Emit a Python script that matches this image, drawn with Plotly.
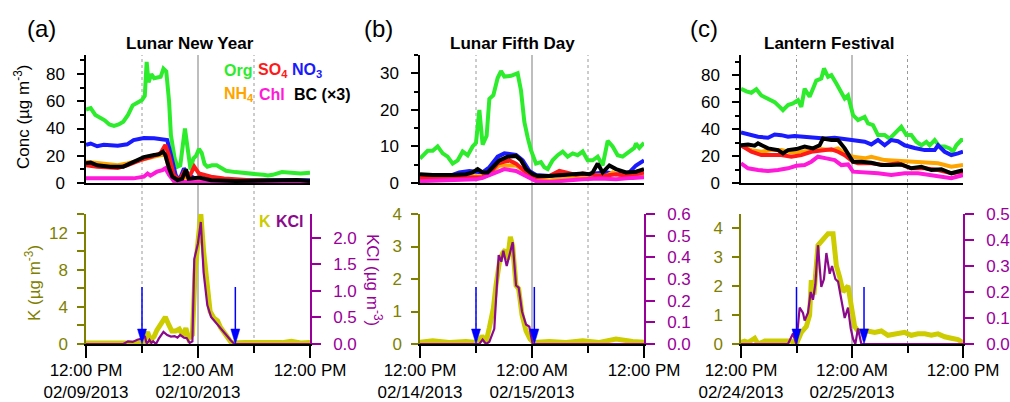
import numpy as np
import pandas as pd
import plotly.graph_objects as go

W, H = 1010, 402

# ------------------------------------------------------------------
# Time series, hours after 12:00 PM on the first day of each episode
# ------------------------------------------------------------------
# (a) Lunar New Year
A_ORG_T = [0, 0.5, 1, 1.5, 2, 2.5, 3, 3.5, 4, 4.5, 5, 5.5, 6, 6.3, 6.5, 6.7, 7, 7.3, 7.7, 8,
           8.3, 8.6, 8.9, 9.1, 9.5, 9.8, 10.1, 10.4, 10.6, 10.9, 11.2, 11.5, 11.8, 12.1, 12.4,
           12.7, 13, 13.5, 14, 14.5, 15, 16, 17, 18, 19, 19.5, 20, 21, 22, 23, 24]
A_ORG = [54, 55, 50, 48, 46, 43, 42, 43, 45, 50, 57, 59, 61, 64, 89, 74, 80, 77, 78, 78,
         84, 82, 60, 35, 18, 12, 13, 30, 40, 25, 10, 18, 20, 25, 22,
         14, 12, 13, 13, 11, 9, 8, 7.5, 7, 6, 5.5, 6, 8, 7.5, 7, 7.5]
A_NO3_T = [0, 0.5, 1.2, 1.9, 3.4, 4.4, 5.1, 6.2, 7.3, 8.4, 8.7, 9.1, 9.6, 10, 10.5, 11, 11.6,
           12.3, 14, 17, 20, 24]
A_NO3 = [28, 29, 27, 28, 27.4, 28.4, 31.5, 33, 32.8, 32.3, 31.5, 20.5, 6, 2, 10.7, 6, 3.5,
         2, 2, 1.5, 1.5, 2]
A_SO4_T = [0, 1.2, 3.4, 4.4, 5.9, 6.9, 8, 8.5, 8.9, 9.4, 10, 10.5, 11, 11.6, 12.1, 12.6, 13.4,
           14.8, 17.6, 21, 24]
A_SO4 = [13, 12, 11, 13, 17, 19, 22, 28, 20, 6, 2, 8, 3.5, 12, 7, 6, 4.6, 3.4, 2, 1.5, 1.5]
A_NH4_T = [0, 1.6, 3.4, 4.4, 5.9, 6.9, 8, 8.5, 9, 9.4, 10, 10.7, 11.2, 12, 13, 18, 24]
A_NH4 = [15.7, 14.4, 13, 14.4, 17, 19, 20.5, 20.5, 8, 1.5, 1, 4.6, 1.5, 2, 1.2, 1, 1]
A_CHL_T = [0, 3.4, 5.1, 6.2, 6.6, 6.9, 7.6, 8.2, 8.5, 8.9, 9.4, 10.1, 12, 18, 24]
A_CHL = [3.4, 3, 3.4, 4.6, 7, 5.4, 8.3, 9.5, 10.8, 6, 1.5, 1, 0.5, 0.7, 1]
A_BC_T = [0, 0.5, 1.2, 2.6, 4, 5.1, 6.2, 7.3, 7.8, 8.25, 8.5, 8.9, 9.25, 9.8, 10.3, 10.7, 11,
          12.1, 13.4, 16, 21.2, 22.6, 24]
A_BC = [14.4, 15, 13, 12, 12, 15.7, 19, 20.5, 21, 23, 20.5, 10.8, 4.6, 2.2, 3, 10, 3,
        4, 2, 1.5, 1.7, 2.2, 1.5]
A_K_T = [0, 1, 2, 3, 4, 5, 5.5, 6, 6.3, 6.6, 6.9, 7.3, 7.6, 8, 8.5, 8.9, 9.2, 9.6, 10, 10.4,
         10.7, 11, 11.4, 11.7, 12, 12.3, 12.6, 13, 13.3, 13.7, 14.1, 14.4, 14.8, 15.2, 15.6,
         17, 19, 21, 22, 23, 24]
A_K = [0.1, 0.12, 0.08, 0.1, 0.12, 0.1, 0.2, 0.1, 0.5, 1.3, 0.4, 0.8, 1.5, 2.2, 2.9, 2.0,
       1.4, 1.4, 1.6, 0.9, 1.7, 0.6, 1.0, 8, 11.6, 14, 10, 5.5, 3.5, 2.8, 2.5, 1.8, 1.2, 0.6,
       0.1, 0.15, 0.12, 0.15, 0.3, 0.12, 0.15]
A_KCL_T = [0, 4, 4.5, 5, 5.5, 6, 6.3, 6.5, 6.8, 7, 7.2, 7.5, 7.8, 8.3, 8.7, 9.1, 9.5, 9.8,
           10.1, 10.5, 10.8, 11.1, 11.4, 11.6, 12, 12.3, 12.6, 13, 13.4, 14.1, 14.8, 15.5,
           15.9, 24]
A_KCL = [0, 0, 0.05, 0.04, 0.08, 0.1, 0.15, 0.0, 0.08, 0.02, 0.05, 0.0, 0.1, 0.23, 0.17,
         0.14, 0.15, 0.12, 0.17, 0.12, 0.11, 0.02, 0.05, 1.6, 1.9, 2.3, 1.35, 0.73, 0.51,
         0.36, 0.23, 0.07, 0, 0]
A_EVENT = [6, 16]

# (b) Lunar Fifth Day
B_ORG_T = [0, 0.46, 0.82, 1.36, 1.89, 2.43, 2.96, 3.5, 4.04, 4.57, 5.11, 5.64, 6, 6.36, 6.71,
           7.14, 7.43, 7.86, 8.32, 8.68, 9.04, 9.75, 10.46, 10.82, 11.18, 11.54, 11.89, 12.43,
           12.96, 13.32, 13.68, 14.21, 14.75, 15.29, 15.82, 16.36, 16.89, 17.43, 17.96, 18.5,
           19.04, 19.57, 20.11, 20.64, 21.18, 21.71, 22.43, 22.96, 23.14, 23.5, 24]
B_ORG = [6.7, 8.1, 8.8, 8.8, 10, 8.1, 7.2, 5.3, 6.2, 8.6, 7.6, 10, 11, 20, 10.5,
         12.9, 23, 24, 28.7, 30.6, 29.1, 29.3, 30, 25.3, 16.7, 12.4, 9, 5.3,
         5.7, 4.3, 3.8, 6.2, 7.6, 8.6, 7.2, 8.1, 7.6, 8.6, 6.2, 6.2,
         7.2, 4.8, 11.5, 10, 7.6, 7.2, 8.6, 9.6, 10.8, 9.6, 11]
B_NO3_T = [0, 3.5, 4.21, 5.29, 6.71, 7.43, 8.32, 9.04, 10.29, 11, 11.71, 12.43, 13.86, 14.93,
           16.36, 17.43, 18.86, 19.93, 21, 22.43, 23.14, 24]
B_NO3 = [2.2, 2.2, 2.9, 3.3, 2.9, 4.3, 7.2, 8.1, 7.7, 6.2, 3.3, 2.2, 1.9, 2.4, 1.9, 2.2, 2.4,
         2.9, 2.4, 2.9, 4.8, 6.2]
B_SO4_T = [0, 6.71, 7.43, 8.32, 9.57, 10.29, 11.36, 12.43, 13.86, 14.93, 15.64, 16.71, 17.43,
           18.5, 19.57, 21, 22.43, 24]
B_SO4 = [1.4, 1.6, 2.4, 5.3, 6.2, 5.3, 2.9, 1.6, 1.9, 3.3, 2.9, 2.2, 2.6, 2.2, 1.9, 2.4, 1.9, 2.9]
B_NH4_T = [0, 4.93, 6.71, 7.79, 8.5, 10.29, 11.36, 12.43, 13.86, 15.64, 17.43, 18.86, 19.93,
           20.64, 21.71, 24]
B_NH4 = [1.2, 1.6, 1.9, 3.3, 4.8, 4.8, 2.9, 1.0, 0.7, 1.4, 1.9, 2.2, 1.9, 2.9, 1.9, 2.4]
B_CHL_T = [0, 3.14, 6, 6.71, 8.14, 9.04, 10.29, 11.36, 12.43, 13.86, 15.64, 17.43, 19.21, 21,
           22.79, 24]
B_CHL = [0.5, 0.7, 1.0, 1.4, 2.9, 3.8, 3.3, 1.9, 0.5, 0.3, 0.7, 1.0, 1.2, 1.0, 1.4, 1.6]
B_BC_T = [0, 1.36, 3.5, 4.93, 5.64, 6.18, 6.71, 7.25, 7.79, 8.5, 9.39, 10.29, 10.82, 11.36,
          12.07, 12.61, 13.86, 15.29, 16.36, 17.43, 18.14, 18.5, 19.04, 19.57, 20.29, 21,
          22.07, 23.14, 24]
B_BC = [2.4, 2.2, 2.2, 2.4, 2.9, 3.8, 2.9, 2.9, 4.3, 6.2, 7.2, 7.4, 6.2, 3.8, 2.4, 1.9, 1.9,
        2.2, 2.2, 2.6, 2.4, 2.9, 5.3, 2.9, 4.8, 3.8, 2.9, 3.1, 3.8]
B_K_T = [0, 1.36, 3.14, 4.93, 6.07, 6.36, 6.64, 7.07, 7.43, 7.86, 8.14, 8.5, 8.86, 9.14, 9.39,
         9.68, 9.93, 10.29, 10.57, 10.93, 11.36, 11.79, 12.14, 13.86, 15.64, 17.43, 19.21, 21,
         22.79, 24]
B_K = [0.05, 0.1, 0.05, 0.08, 0.05, 0.1, 0.25, 0.05, 0.5, 1.1, 1.8, 2.5, 2.8, 2.9, 2.6, 3.3,
       3.0, 1.8, 1.7, 0.9, 0.4, 0.15, 0.05, 0.08, 0.05, 0.1, 0.05, 0.15, 0.08, 0.05]
B_KCL_T = [0, 6.36, 6.71, 7.07, 7.43, 7.96, 8.43, 8.71, 8.93, 9.29, 9.64, 9.93, 10.29, 10.57,
           10.93, 11.36, 11.71, 12.07, 24]
B_KCL = [0, 0, 0.02, 0, 0.01, 0.07, 0.41, 0.38, 0.43, 0.36, 0.42, 0.47, 0.27, 0.26, 0.15,
         0.09, 0.08, 0, 0]
B_EVENT = [6, 12.25]

# (c) Lantern Festival
C_ORG_T = [0, 0.58, 1.12, 1.66, 2.2, 2.92, 3.64, 4.18, 4.54, 5.08, 5.62, 6.16, 6.52, 6.88,
           7.42, 7.78, 8.14, 8.68, 8.97, 9.41, 9.77, 10.31, 10.85, 11.21, 11.57, 12.11, 12.65,
           13.37, 13.73, 14.27, 14.81, 15.53, 16.07, 16.61, 17.33, 17.87, 18.41, 18.95, 19.5,
           20.04, 20.4, 20.94, 21.48, 22.02, 22.56, 22.92, 23.28, 23.82, 24]
C_ORG = [70, 68, 67, 69.6, 65, 62.7, 60, 56.5, 54, 57.8, 59, 61.5, 56.5, 70, 64, 70, 76, 77.5,
         85, 78.8, 80, 73.8, 67.6, 62.7, 65, 50.4, 46.7, 49, 44.2, 43, 35.6, 35.6, 33, 36.8,
         41.7, 35.6, 35.6, 30.6, 28, 30.6, 28, 31.9, 27, 27, 25.7, 23.2, 28, 31.9, 32]
C_NO3_T = [0, 0.76, 1.84, 2.92, 3.64, 4.36, 5.08, 5.8, 6.88, 7.96, 9.05, 10.13, 11.21, 12.29,
           13.37, 14.09, 14.81, 15.53, 16.25, 16.97, 17.69, 18.77, 19.86, 20.94, 21.3, 22.02,
           22.74, 23.46, 24]
C_NO3 = [37.5, 36, 34.3, 33.6, 36, 35.5, 34.3, 34.8, 34.3, 33.8, 33, 33.6, 32.6, 31.9, 30.6,
         28.6, 31.9, 28, 31.9, 31, 28, 26, 24.4, 24.4, 28, 23.2, 20.7, 22, 23.2]
C_SO4_T = [0, 1.12, 2.2, 3.28, 4.36, 5.44, 6.52, 7.6, 8.68, 9.77, 10.49, 11.21, 12.11, 12.65,
           14.09, 15.53, 16.97, 18.41, 19.86, 21.3, 22.74, 24]
C_SO4 = [28, 23.2, 20.7, 21, 20.7, 19.5, 20.7, 23.2, 24.4, 25, 23.2, 20.7, 15.8, 14.6, 14.6,
         13.3, 14.6, 10.9, 10.9, 9.6, 7.2, 8.4]
C_NH4_T = [0, 1.12, 2.2, 3.28, 4.36, 5.44, 6.52, 7.6, 8.68, 9.77, 10.49, 11.21, 12.11, 13.37,
           14.09, 15.53, 16.97, 18.41, 19.86, 21.3, 22.74, 24]
C_NH4 = [27.7, 24.4, 23.2, 24.4, 24.4, 22.7, 23.2, 24.4, 25.2, 24.4, 25.7, 22, 19.5, 18.3,
         19.5, 17, 16.3, 15.8, 14.6, 14.6, 12.1, 13.3]
C_CHL_T = [0, 0.76, 1.84, 2.92, 4, 5.08, 5.98, 6.88, 7.6, 8.32, 9.23, 10.13, 10.85, 11.57,
           12.11, 13.37, 14.81, 16.25, 17.69, 19.14, 20.58, 22.02, 22.74, 24]
C_CHL = [14.6, 10.9, 9.6, 8.9, 9.6, 10.9, 12.8, 13.3, 15.8, 19.5, 18.3, 17, 13.3, 13.8, 8.4,
         7.9, 7.2, 5.9, 7.2, 7.2, 5.9, 4.7, 3.5, 5.9]
C_BC_T = [0, 0.76, 1.48, 1.84, 2.92, 4, 4.54, 5.08, 5.98, 6.88, 7.78, 8.5, 8.86, 9.77, 10.49,
          11.21, 12.11, 13.01, 14.09, 15.17, 16.25, 17.33, 18.41, 19.5, 20.58, 21.66, 22.74, 24]
C_BC = [28, 28.6, 27.7, 29.4, 25.7, 24.4, 22, 24.4, 25.2, 27, 25.7, 28, 33, 31.9, 31.9, 25.7,
        15.8, 15.8, 15, 13.3, 13.3, 13.8, 10.9, 12, 9.6, 10.2, 7.2, 9.6]
C_K_T = [0, 0.4, 0.76, 1.48, 1.84, 2.56, 3.64, 4.72, 5.44, 5.98, 6.52, 7.06, 7.42, 7.6, 7.89,
         8.32, 8.86, 9.41, 9.95, 10.31, 10.67, 11.03, 11.57, 11.93, 12.29, 12.65, 13.19, 13.73,
         14.45, 15.17, 15.89, 16.61, 17.69, 18.41, 19.14, 19.86, 20.58, 21.3, 22.02, 22.74,
         23.46, 24]
C_K = [0.05, 0.1, 0.05, 0.2, 0, 0.1, 0.1, 0.12, 0.1, 0, 0.4, 0.6, 1.0, 2.2, 1.7, 3.4, 3.6,
       3.8, 3.8, 2.7, 2.3, 1.8, 2.0, 1.3, 0.6, 0.45, 0.45, 0.45, 0.4, 0.45, 0.3, 0.35, 0.4,
       0.3, 0.35, 0.35, 0.3, 0.35, 0.25, 0.2, 0.15, 0.05]
C_KCL_T = [0, 5.08, 5.62, 5.98, 6.16, 6.34, 6.7, 6.88, 7.24, 7.53, 7.78, 8.04, 8.32, 8.68,
           8.97, 9.23, 9.59, 9.84, 10.2, 10.49, 10.85, 11.21, 11.57, 11.86, 12.11, 12.36,
           12.65, 13.01, 24]
C_KCL = [0, 0, 0.04, 0, 0.07, 0.14, 0.12, 0.09, 0.12, 0.2, 0.17, 0.23, 0.38, 0.22, 0.25,
         0.35, 0.27, 0.3, 0.25, 0.24, 0.17, 0.1, 0.14, 0.06, 0.02, 0, 0.06, 0, 0]
C_EVENT = [6, 13.3]

# ------------------------------------------------------------------
# Styling
# ------------------------------------------------------------------
FONT = "Arial, 'Liberation Sans', Helvetica, sans-serif"
COL = dict(Org="#2cec2c", SO4="#ff1a1a", NO3="#1a1aff", NH4="#ffa500", Chl="#ff1ad9", BC="#000000")
K_COL, KCL_COL = "#cccc00", "#8b0a8b"
OLIVE, PURPLE, ARROW_COL = "#7f7f00", "#990099", "#0000ff"
TOP_Y, BOT_Y = (55, 183), (214, 344)          # plot rows, pixels from the top
GRID_TOP, GRID_BOT = 55, 344
ARROW_LEN_PX, HEAD_LEN_PX, HEAD_HALF_PX = 57, 15, 4.5

panels = [
    dict(start="2013-02-09 12:00", px=(86, 310), title="Lunar New Year", tag="(a)",
         title_x=190, tag_x=41,
         species=dict(Org=(A_ORG_T, A_ORG), NO3=(A_NO3_T, A_NO3), NH4=(A_NH4_T, A_NH4),
                      SO4=(A_SO4_T, A_SO4), Chl=(A_CHL_T, A_CHL), BC=(A_BC_T, A_BC)),
         k=(A_K_T, A_K), kcl=(A_KCL_T, A_KCL), events=A_EVENT,
         top=([0, 94], 20, 10), kr=([0, 14], 4, 2), kclr=([0, 2.45], 0.5)),
    dict(start="2013-02-14 12:00", px=(420, 644), title="Lunar Fifth Day", tag="(b)",
         title_x=512, tag_x=378,
         species=dict(Org=(B_ORG_T, B_ORG), NO3=(B_NO3_T, B_NO3), NH4=(B_NH4_T, B_NH4),
                      SO4=(B_SO4_T, B_SO4), Chl=(B_CHL_T, B_CHL), BC=(B_BC_T, B_BC)),
         k=(B_K_T, B_K), kcl=(B_KCL_T, B_KCL), events=B_EVENT,
         top=([0, 35], 10, 5), kr=([0, 4], 1, None), kclr=([0, 0.6], 0.1)),
    dict(start="2013-02-24 12:00", px=(741, 963), title="Lantern Festival", tag="(c)",
         title_x=829, tag_x=704,
         species=dict(Org=(C_ORG_T, C_ORG), NO3=(C_NO3_T, C_NO3), NH4=(C_NH4_T, C_NH4),
                      SO4=(C_SO4_T, C_SO4), Chl=(C_CHL_T, C_CHL), BC=(C_BC_T, C_BC)),
         k=(C_K_T, C_K), kcl=(C_KCL_T, C_KCL), events=C_EVENT,
         top=([0, 95], 20, 10), kr=([0, 4.48], 1, None), kclr=([0, 0.5], 0.1)),
]


def xf(px):
    return px / W


def yf(py):
    return 1 - py / H


def ax_name(base, n):
    return base if n == 1 else f"{base}{n}"


def ax_ref(base, n):
    return base if n == 1 else f"{base}{n}"


def times(start, hours):
    return pd.Timestamp(start) + pd.to_timedelta(np.asarray(hours, dtype=float), unit="h")


def tstr(ts):
    return ts.strftime("%Y-%m-%d %H:%M:%S")


fig = go.Figure()
layout = dict(width=W, height=H, margin=dict(l=0, r=0, t=0, b=0, autoexpand=False),
              paper_bgcolor="white", plot_bgcolor="rgba(0,0,0,0)",
              showlegend=False, font=dict(family=FONT, size=17, color="black"))
shapes, annotations = [], []

for i, p in enumerate(panels):
    xt, xb = 2 * i + 1, 2 * i + 2
    yt, yl, yr = 3 * i + 1, 3 * i + 2, 3 * i + 3
    x0px, x1px = p["px"]
    t0 = pd.Timestamp(p["start"])
    t6, t12, t18, t24 = (t0 + pd.Timedelta(hours=h) for h in (6, 12, 18, 24))
    xrange = [tstr(t0), tstr(t24)]
    dom_x = [xf(x0px), xf(x1px)]

    # --- aerosol composition (top row)
    for name, (hrs, vals) in p["species"].items():
        fig.add_trace(go.Scatter(x=times(p["start"], hrs), y=vals, mode="lines",
                                 line=dict(color=COL[name], width=4),
                                 xaxis=ax_ref("x", xt), yaxis=ax_ref("y", yt)))

    # --- K and KCl (bottom row)
    fig.add_trace(go.Scatter(x=times(p["start"], p["k"][0]), y=p["k"][1], mode="lines",
                             line=dict(color=K_COL, width=5),
                             xaxis=ax_ref("x", xb), yaxis=ax_ref("y", yl)))
    fig.add_trace(go.Scatter(x=times(p["start"], p["kcl"][0]), y=p["kcl"][1], mode="lines",
                             line=dict(color=KCL_COL, width=2.2),
                             xaxis=ax_ref("x", xb), yaxis=ax_ref("y", yr)))

    # --- event start / end arrows, drawn on the KCl axis
    kcl_span = p["kclr"][0][1] - p["kclr"][0][0]
    u_px = kcl_span / (BOT_Y[1] - BOT_Y[0])
    hw = pd.Timedelta(hours=HEAD_HALF_PX * 24 / (x1px - x0px))
    for ev in p["events"]:
        te = t0 + pd.Timedelta(hours=ev)
        fig.add_trace(go.Scatter(x=[te, te], y=[HEAD_LEN_PX * u_px * 0.5, ARROW_LEN_PX * u_px],
                                 mode="lines", line=dict(color=ARROW_COL, width=1.5),
                                 xaxis=ax_ref("x", xb), yaxis=ax_ref("y", yr)))
        fig.add_trace(go.Scatter(x=[te - hw, te + hw, te, te - hw],
                                 y=[HEAD_LEN_PX * u_px, HEAD_LEN_PX * u_px, 0, HEAD_LEN_PX * u_px],
                                 mode="lines", fill="toself", fillcolor=ARROW_COL,
                                 line=dict(color=ARROW_COL, width=0.5),
                                 xaxis=ax_ref("x", xb), yaxis=ax_ref("y", yr)))

    # --- axes
    layout[ax_name("xaxis", xt)] = dict(
        domain=dom_x, anchor=ax_ref("y", yt), type="date", range=xrange, automargin=False,
        showticklabels=False, ticks="", showline=True, linecolor="black", linewidth=1.5,
        showgrid=False, zeroline=False)
    layout[ax_name("xaxis", xb)] = dict(
        domain=dom_x, anchor=ax_ref("y", yl), type="date", range=xrange, automargin=False,
        tickmode="array", tickvals=[tstr(t0), tstr(t12), tstr(t24)],
        ticktext=[t0.strftime("%-I:%M %p") + "<br>" + t0.strftime("%m/%d/%Y"),
                  t12.strftime("%-I:%M %p") + "<br>" + t12.strftime("%m/%d/%Y"),
                  t24.strftime("%-I:%M %p")],
        ticks="outside", ticklen=12, tickwidth=1.5, tickcolor="black", ticklabelstandoff=-2,
        showline=True, linecolor="black", linewidth=1.5, showgrid=False, zeroline=False,
        tickfont=dict(size=17, color="black"),
        minor=dict(tickmode="array", tickvals=[tstr(t6), tstr(t18)], ticks="outside",
                   ticklen=7, tickwidth=1.5, tickcolor="black", showgrid=False))

    trange, tdt, tminor = p["top"]
    layout[ax_name("yaxis", yt)] = dict(
        domain=[yf(TOP_Y[1]), yf(TOP_Y[0])], anchor=ax_ref("x", xt), range=trange,
        automargin=False,
        tickmode="linear", tick0=0, dtick=tdt, ticks="outside", ticklen=7, tickwidth=1.5,
        tickcolor="black", showline=True, linecolor="black", linewidth=1.5,
        showgrid=False, zeroline=False, ticklabelstandoff=9,
        tickfont=dict(size=17, color="black"),
        minor=dict(dtick=tminor, tick0=0, ticks="outside", ticklen=4, tickwidth=1.5,
                   tickcolor="black", showgrid=False))

    krange, kdt, kminor = p["kr"]
    ky = dict(
        domain=[yf(BOT_Y[1]), yf(BOT_Y[0])], anchor=ax_ref("x", xb), range=krange,
        automargin=False,
        tickmode="linear", tick0=0, dtick=kdt, ticks="outside", ticklen=7, tickwidth=1.5,
        tickcolor=OLIVE, showline=True, linecolor=OLIVE, linewidth=1.5,
        showgrid=False, zeroline=False, ticklabelstandoff=6,
        tickfont=dict(size=17, color=OLIVE))
    if kminor:
        ky["minor"] = dict(dtick=kminor, tick0=0, ticks="outside", ticklen=7, tickwidth=1.5,
                           tickcolor=OLIVE, showgrid=False)
    layout[ax_name("yaxis", yl)] = ky

    crange, cdt = p["kclr"]
    layout[ax_name("yaxis", yr)] = dict(
        overlaying=ax_ref("y", yl), side="right", anchor=ax_ref("x", xb), range=crange,
        automargin=False,
        tickmode="linear", tick0=0, dtick=cdt, tickformat=".1f", ticks="outside",
        ticklen=9, tickwidth=1.5, tickcolor=PURPLE, showline=True, linecolor=PURPLE,
        linewidth=1.5, showgrid=False, zeroline=False, ticklabelstandoff=9,
        tickfont=dict(size=17, color=PURPLE))

    # --- vertical time markers spanning both rows
    for tv, solid in ((t6, False), (t12, True), (t18, False)):
        shapes.append(dict(type="line", xref=ax_ref("x", xb), yref="paper",
                           x0=tstr(tv), x1=tstr(tv), y0=yf(GRID_BOT), y1=yf(GRID_TOP),
                           layer="below",
                           line=dict(color="#a8a8a8" if solid else "#9a9a9a",
                                     width=1.5 if solid else 1,
                                     dash="solid" if solid else "dot")))

    # --- panel tag and title
    annotations.append(dict(text=p["tag"], x=xf(p["tag_x"]), y=yf(28), xref="paper",
                            yref="paper", showarrow=False, xanchor="center", yanchor="middle",
                            font=dict(size=24, color="black")))
    annotations.append(dict(text="<b>" + p["title"] + "</b>", x=xf(p["title_x"]), y=yf(43),
                            xref="paper", yref="paper", showarrow=False,
                            xanchor="center", yanchor="middle",
                            font=dict(size=17, color="black")))


def label(text, xpx, ypx, color, size=16, bold=True, angle=0, xanchor="left"):
    annotations.append(dict(text=("<b>%s</b>" % text) if bold else text,
                            x=xf(xpx), y=yf(ypx), xref="paper", yref="paper",
                            showarrow=False, xanchor=xanchor, yanchor="middle",
                            textangle=angle, font=dict(size=size, color=color)))


# species key in panel (a)
label("Org", 222, 70, COL["Org"])
label("SO<sub>4</sub>", 256, 70, COL["SO4"])
label("NO<sub>3</sub>", 290, 70, COL["NO3"])
label("NH<sub>4</sub>", 222, 95, COL["NH4"])
label("Chl", 257, 95, COL["Chl"])
label("BC (×3)", 292, 95, COL["BC"])
label("K", 257, 221, K_COL)
label("KCl", 274, 221, KCL_COL)

# axis titles
label("Conc (µg m<sup>-3</sup>)", 22, 117, "black", size=17, bold=False, angle=-90,
      xanchor="center")
label("K (µg m<sup>-3</sup>)", 33, 283, OLIVE, size=17, bold=False, angle=-90, xanchor="center")
label("KCl (µg m<sup>-3</sup>)", 374, 280, PURPLE, size=17, bold=False, angle=90,
      xanchor="center")

layout["shapes"] = shapes
layout["annotations"] = annotations
fig.update_layout(**layout)
fig.write_html("out.html")
